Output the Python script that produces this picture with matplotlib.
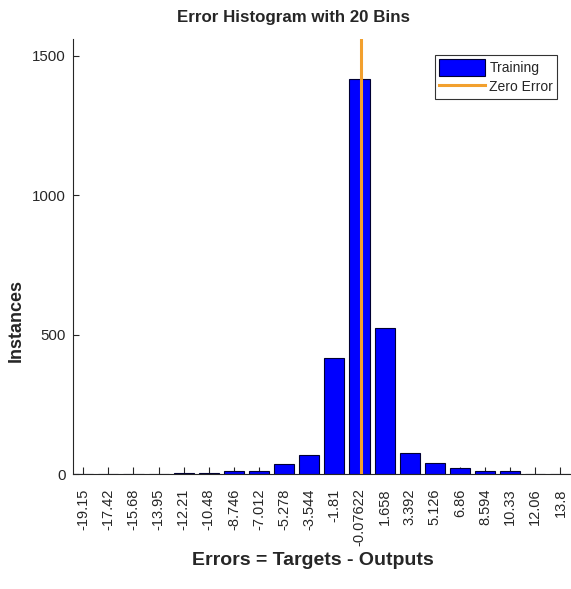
import matplotlib
matplotlib.use("Agg")
import matplotlib.pyplot as plt
from matplotlib.patches import Patch
from matplotlib.lines import Line2D

plt.rcParams['font.family'] = ['Liberation Sans', 'DejaVu Sans']

# Bin centres (as printed on the axis) and training error counts
bin_labels = ["-19.15", "-17.42", "-15.68", "-13.95", "-12.21", "-10.48",
              "-8.746", "-7.012", "-5.278", "-3.544", "-1.81", "-0.07622",
              "1.658", "3.392", "5.126", "6.86", "8.594", "10.33", "12.06", "13.8"]
bin_centers = [float(s) for s in bin_labels]
training_counts = [0, 0, 0, 0, 4, 5, 11, 11, 37, 70, 415, 1418,
                   522, 75, 38, 21, 12, 12, 0, 0]

text_color = "#262626"
bar_color = "#0000FF"
zero_color = "#F2A02E"

fig = plt.figure(figsize=(5.71, 5.89), dpi=100)
ax = fig.add_axes([0.1273, 0.1952, 0.8727, 0.7386])

step = (bin_centers[-1] - bin_centers[0]) / (len(bin_centers) - 1)
ax.bar(bin_centers, training_counts, width=0.8 * step, color=bar_color,
       edgecolor="#000033", linewidth=0.8, zorder=2)
ax.axvline(0, color=zero_color, linewidth=2.2, zorder=3)

ax.set_xlim(bin_centers[0] - 0.42 * step, bin_centers[-1] + 0.42 * step)
ax.set_ylim(0, max(training_counts) * 1.1)

ax.set_xticks(bin_centers)
ax.set_xticklabels(bin_labels, rotation=90, fontsize=10.5, color=text_color)
ax.set_yticks([0, 500, 1000, 1500])
ax.set_yticklabels(["0", "500", "1000", "1500"], fontsize=10.8, color=text_color)
ax.tick_params(axis='x', direction='in', length=5, width=0.8, pad=10.5, colors=text_color)
ax.tick_params(axis='y', direction='in', length=4, width=0.8, pad=5, colors=text_color)

for side in ("top", "right"):
    ax.spines[side].set_visible(False)
for side in ("left", "bottom"):
    ax.spines[side].set_color(text_color)
    ax.spines[side].set_linewidth(0.8)

ax.set_title("Error Histogram with 20 Bins", fontsize=12.2, fontweight='bold',
             color=text_color, x=0.444, pad=12)
ax.set_xlabel("Errors = Targets - Outputs", fontsize=14, fontweight='bold',
              color=text_color)
ax.xaxis.set_label_coords(0.4825, -0.18)
ax.set_ylabel("Instances", fontsize=13, fontweight='bold', color=text_color)
ax.yaxis.set_label_coords(-0.096, 0.354)

handles = [Patch(facecolor=bar_color, edgecolor="#000033", linewidth=0.8),
           Line2D([0], [0], color=zero_color, linewidth=2.2)]
leg = ax.legend(handles, ["Training", "Zero Error"], loc='upper right',
                bbox_to_anchor=(0.9725, 0.963), fontsize=10, frameon=True,
                fancybox=False, edgecolor="black", handlelength=3.3,
                handleheight=1.45, handletextpad=0.3, borderpad=0.3,
                labelspacing=0.2, borderaxespad=0)
leg.get_frame().set_linewidth(0.8)
for t in leg.get_texts():
    t.set_color(text_color)

fig.savefig("out.png", dpi=100)
